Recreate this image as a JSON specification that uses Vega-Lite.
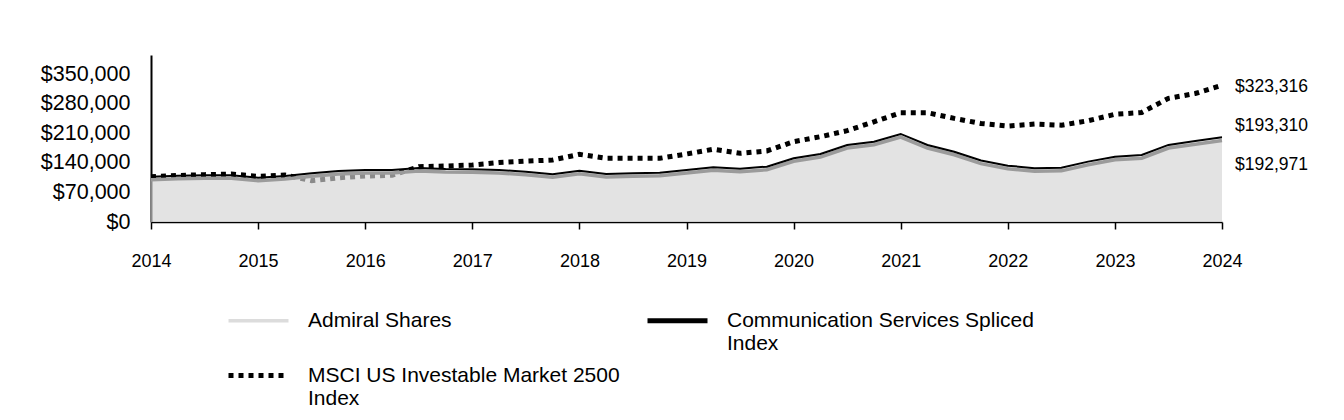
{
  "$schema": "https://vega.github.io/schema/vega-lite/v6.json",
  "width": 1071,
  "height": 167,
  "autosize": {"type": "none"},
  "padding": {"left": 151, "top": 55, "right": 122, "bottom": 198},
  "background": "white",
  "config": {
    "view": {"stroke": null},
    "font": "Liberation Sans",
    "axis": {"labelOverlap": false, "labelFlush": false, "grid": false}
  },
  "datasets": {
    "perf": [
      {"series": "Admiral Shares", "year": 2014.0, "value": 100000},
      {"series": "Admiral Shares", "year": 2014.25, "value": 102400},
      {"series": "Admiral Shares", "year": 2014.5, "value": 103300},
      {"series": "Admiral Shares", "year": 2014.75, "value": 103300},
      {"series": "Admiral Shares", "year": 2015.0, "value": 97700},
      {"series": "Admiral Shares", "year": 2015.25, "value": 101700},
      {"series": "Admiral Shares", "year": 2015.5, "value": 108000},
      {"series": "Admiral Shares", "year": 2015.75, "value": 113500},
      {"series": "Admiral Shares", "year": 2016.0, "value": 115900},
      {"series": "Admiral Shares", "year": 2016.25, "value": 115900},
      {"series": "Admiral Shares", "year": 2016.5, "value": 120600},
      {"series": "Admiral Shares", "year": 2016.75, "value": 118200},
      {"series": "Admiral Shares", "year": 2017.0, "value": 117500},
      {"series": "Admiral Shares", "year": 2017.25, "value": 115900},
      {"series": "Admiral Shares", "year": 2017.5, "value": 111800},
      {"series": "Admiral Shares", "year": 2017.75, "value": 105700},
      {"series": "Admiral Shares", "year": 2018.0, "value": 114200},
      {"series": "Admiral Shares", "year": 2018.25, "value": 106400},
      {"series": "Admiral Shares", "year": 2018.5, "value": 108000},
      {"series": "Admiral Shares", "year": 2018.75, "value": 109500},
      {"series": "Admiral Shares", "year": 2019.0, "value": 115900},
      {"series": "Admiral Shares", "year": 2019.25, "value": 122300},
      {"series": "Admiral Shares", "year": 2019.5, "value": 119000},
      {"series": "Admiral Shares", "year": 2019.75, "value": 123700},
      {"series": "Admiral Shares", "year": 2020.0, "value": 143500},
      {"series": "Admiral Shares", "year": 2020.25, "value": 153700},
      {"series": "Admiral Shares", "year": 2020.5, "value": 175000},
      {"series": "Admiral Shares", "year": 2020.75, "value": 182800},
      {"series": "Admiral Shares", "year": 2021.0, "value": 201000},
      {"series": "Admiral Shares", "year": 2021.25, "value": 175000},
      {"series": "Admiral Shares", "year": 2021.5, "value": 159000},
      {"series": "Admiral Shares", "year": 2021.75, "value": 138000},
      {"series": "Admiral Shares", "year": 2022.0, "value": 126000},
      {"series": "Admiral Shares", "year": 2022.25, "value": 120000},
      {"series": "Admiral Shares", "year": 2022.5, "value": 121000},
      {"series": "Admiral Shares", "year": 2022.75, "value": 135500},
      {"series": "Admiral Shares", "year": 2023.0, "value": 147000},
      {"series": "Admiral Shares", "year": 2023.25, "value": 151000},
      {"series": "Admiral Shares", "year": 2023.5, "value": 175000},
      {"series": "Admiral Shares", "year": 2023.75, "value": 184000},
      {"series": "Admiral Shares", "year": 2024.0, "value": 192971},
      {"series": "Communication Services Spliced Index", "year": 2014.0, "value": 100000},
      {"series": "Communication Services Spliced Index", "year": 2014.25, "value": 102500},
      {"series": "Communication Services Spliced Index", "year": 2014.5, "value": 103400},
      {"series": "Communication Services Spliced Index", "year": 2014.75, "value": 103400},
      {"series": "Communication Services Spliced Index", "year": 2015.0, "value": 97800},
      {"series": "Communication Services Spliced Index", "year": 2015.25, "value": 101800},
      {"series": "Communication Services Spliced Index", "year": 2015.5, "value": 108100},
      {"series": "Communication Services Spliced Index", "year": 2015.75, "value": 113600},
      {"series": "Communication Services Spliced Index", "year": 2016.0, "value": 116000},
      {"series": "Communication Services Spliced Index", "year": 2016.25, "value": 116000},
      {"series": "Communication Services Spliced Index", "year": 2016.5, "value": 120700},
      {"series": "Communication Services Spliced Index", "year": 2016.75, "value": 118300},
      {"series": "Communication Services Spliced Index", "year": 2017.0, "value": 117600},
      {"series": "Communication Services Spliced Index", "year": 2017.25, "value": 116000},
      {"series": "Communication Services Spliced Index", "year": 2017.5, "value": 111900},
      {"series": "Communication Services Spliced Index", "year": 2017.75, "value": 105800},
      {"series": "Communication Services Spliced Index", "year": 2018.0, "value": 114300},
      {"series": "Communication Services Spliced Index", "year": 2018.25, "value": 106500},
      {"series": "Communication Services Spliced Index", "year": 2018.5, "value": 108100},
      {"series": "Communication Services Spliced Index", "year": 2018.75, "value": 109600},
      {"series": "Communication Services Spliced Index", "year": 2019.0, "value": 116000},
      {"series": "Communication Services Spliced Index", "year": 2019.25, "value": 122400},
      {"series": "Communication Services Spliced Index", "year": 2019.5, "value": 119100},
      {"series": "Communication Services Spliced Index", "year": 2019.75, "value": 123800},
      {"series": "Communication Services Spliced Index", "year": 2020.0, "value": 143600},
      {"series": "Communication Services Spliced Index", "year": 2020.25, "value": 153800},
      {"series": "Communication Services Spliced Index", "year": 2020.5, "value": 175100},
      {"series": "Communication Services Spliced Index", "year": 2020.75, "value": 182900},
      {"series": "Communication Services Spliced Index", "year": 2021.0, "value": 201200},
      {"series": "Communication Services Spliced Index", "year": 2021.25, "value": 175200},
      {"series": "Communication Services Spliced Index", "year": 2021.5, "value": 159200},
      {"series": "Communication Services Spliced Index", "year": 2021.75, "value": 138200},
      {"series": "Communication Services Spliced Index", "year": 2022.0, "value": 126200},
      {"series": "Communication Services Spliced Index", "year": 2022.25, "value": 120200},
      {"series": "Communication Services Spliced Index", "year": 2022.5, "value": 121200},
      {"series": "Communication Services Spliced Index", "year": 2022.75, "value": 135700},
      {"series": "Communication Services Spliced Index", "year": 2023.0, "value": 147200},
      {"series": "Communication Services Spliced Index", "year": 2023.25, "value": 151300},
      {"series": "Communication Services Spliced Index", "year": 2023.5, "value": 175300},
      {"series": "Communication Services Spliced Index", "year": 2023.75, "value": 184300},
      {"series": "Communication Services Spliced Index", "year": 2024.0, "value": 193310},
      {"series": "MSCI US Investable Market 2500 Index", "year": 2014.0, "value": 107000},
      {"series": "MSCI US Investable Market 2500 Index", "year": 2014.25, "value": 110000},
      {"series": "MSCI US Investable Market 2500 Index", "year": 2014.5, "value": 112000},
      {"series": "MSCI US Investable Market 2500 Index", "year": 2014.75, "value": 113500},
      {"series": "MSCI US Investable Market 2500 Index", "year": 2015.0, "value": 108000},
      {"series": "MSCI US Investable Market 2500 Index", "year": 2015.25, "value": 111000},
      {"series": "MSCI US Investable Market 2500 Index", "year": 2015.5, "value": 97700},
      {"series": "MSCI US Investable Market 2500 Index", "year": 2015.75, "value": 104500},
      {"series": "MSCI US Investable Market 2500 Index", "year": 2016.0, "value": 108800},
      {"series": "MSCI US Investable Market 2500 Index", "year": 2016.25, "value": 110400},
      {"series": "MSCI US Investable Market 2500 Index", "year": 2016.5, "value": 130800},
      {"series": "MSCI US Investable Market 2500 Index", "year": 2016.75, "value": 132400},
      {"series": "MSCI US Investable Market 2500 Index", "year": 2017.0, "value": 134800},
      {"series": "MSCI US Investable Market 2500 Index", "year": 2017.25, "value": 140500},
      {"series": "MSCI US Investable Market 2500 Index", "year": 2017.5, "value": 144000},
      {"series": "MSCI US Investable Market 2500 Index", "year": 2017.75, "value": 146600},
      {"series": "MSCI US Investable Market 2500 Index", "year": 2018.0, "value": 160000},
      {"series": "MSCI US Investable Market 2500 Index", "year": 2018.25, "value": 150600},
      {"series": "MSCI US Investable Market 2500 Index", "year": 2018.5, "value": 150600},
      {"series": "MSCI US Investable Market 2500 Index", "year": 2018.75, "value": 150600},
      {"series": "MSCI US Investable Market 2500 Index", "year": 2019.0, "value": 160800},
      {"series": "MSCI US Investable Market 2500 Index", "year": 2019.25, "value": 172000},
      {"series": "MSCI US Investable Market 2500 Index", "year": 2019.5, "value": 162400},
      {"series": "MSCI US Investable Market 2500 Index", "year": 2019.75, "value": 168000},
      {"series": "MSCI US Investable Market 2500 Index", "year": 2020.0, "value": 190000},
      {"series": "MSCI US Investable Market 2500 Index", "year": 2020.25, "value": 201700},
      {"series": "MSCI US Investable Market 2500 Index", "year": 2020.5, "value": 216000},
      {"series": "MSCI US Investable Market 2500 Index", "year": 2020.75, "value": 237000},
      {"series": "MSCI US Investable Market 2500 Index", "year": 2021.0, "value": 258500},
      {"series": "MSCI US Investable Market 2500 Index", "year": 2021.25, "value": 258500},
      {"series": "MSCI US Investable Market 2500 Index", "year": 2021.5, "value": 245000},
      {"series": "MSCI US Investable Market 2500 Index", "year": 2021.75, "value": 233000},
      {"series": "MSCI US Investable Market 2500 Index", "year": 2022.0, "value": 227000},
      {"series": "MSCI US Investable Market 2500 Index", "year": 2022.25, "value": 231700},
      {"series": "MSCI US Investable Market 2500 Index", "year": 2022.5, "value": 229000},
      {"series": "MSCI US Investable Market 2500 Index", "year": 2022.75, "value": 239500},
      {"series": "MSCI US Investable Market 2500 Index", "year": 2023.0, "value": 254700},
      {"series": "MSCI US Investable Market 2500 Index", "year": 2023.25, "value": 259000},
      {"series": "MSCI US Investable Market 2500 Index", "year": 2023.5, "value": 292500},
      {"series": "MSCI US Investable Market 2500 Index", "year": 2023.75, "value": 304000},
      {"series": "MSCI US Investable Market 2500 Index", "year": 2024.0, "value": 323316}
    ]
  },
  "data": {"name": "perf"},
  "layer": [
    {
      "transform": [{"filter": "datum.series === 'MSCI US Investable Market 2500 Index'"}],
      "mark": {"type": "line", "strokeWidth": 5, "strokeDash": [5, 5], "strokeCap": "butt"},
      "encoding": {
        "x": {
          "field": "year", "type": "quantitative",
          "scale": {"domain": [2014, 2024], "nice": false, "zero": false},
          "axis": {
            "title": null, "values": [2014, 2015, 2016, 2017, 2018, 2019, 2020, 2021, 2022, 2023, 2024],
            "tickCount": 20,
            "format": "d", "grid": false, "labelFlush": false, "labelOverlap": false,
            "labelFont": "Liberation Sans", "labelFontSize": 18, "labelColor": "#000000",
            "labelPadding": 23, "domainColor": "#000000", "domainWidth": 1.5,
            "tickColor": "#000000", "tickWidth": 1.5, "tickSize": 7
          }
        },
        "y": {
          "field": "value", "type": "quantitative",
          "scale": {"domain": [0, 395000], "nice": false},
          "axis": {
            "title": null, "values": [0, 70000, 140000, 210000, 280000, 350000],
            "tickCount": 10,
            "format": "$,.0f", "grid": false, "ticks": false, "labelOverlap": false,
            "labelFont": "Liberation Sans", "labelFontSize": 21.5, "labelColor": "#000000",
            "labelPadding": 21, "domainColor": "#000000", "domainWidth": 2
          }
        },
        "color": {
          "field": "series", "type": "nominal",
          "scale": {
            "domain": ["Admiral Shares", "Communication Services Spliced Index", "MSCI US Investable Market 2500 Index"],
            "range": ["#dcdcdc", "#000000", "#000000"]
          },
          "legend": {
            "title": null, "orient": "none", "legendX": 97, "legendY": 255,
            "direction": "horizontal", "columns": 2,
            "symbolType": "stroke", "symbolSize": 3600,
            "labelFont": "Liberation Sans", "labelFontSize": 21, "labelColor": "#000000",
            "labelOffset": 39, "labelLimit": 500, "labelLineHeight": 22,
            "columnPadding": 17, "rowPadding": 10,
            "labelExpr": "datum.label === 'Communication Services Spliced Index' ? ['Communication Services Spliced', 'Index'] : datum.label === 'MSCI US Investable Market 2500 Index' ? ['MSCI US Investable Market 2500', 'Index'] : [datum.label, ' ']",
            "encode": {
              "symbols": {
                "update": {
                  "strokeDash": {"signal": "datum.value === 'MSCI US Investable Market 2500 Index' ? [5, 5] : [1, 0]"},
                  "strokeWidth": {"signal": "datum.value === 'Admiral Shares' ? 3.5 : 5"}
                }
              }
            }
          }
        }
      }
    },
    {
      "transform": [{"filter": "datum.series === 'Admiral Shares'"}],
      "mark": {"type": "area", "fill": "#d4d4d4", "fillOpacity": 0.65},
      "encoding": {
        "x": {"field": "year", "type": "quantitative"},
        "y": {"field": "value", "type": "quantitative"}
      }
    },
    {
      "transform": [{"filter": "datum.series === 'Admiral Shares'"}],
      "mark": {"type": "line", "stroke": "#9b9b9b", "strokeWidth": 3.5},
      "encoding": {
        "x": {"field": "year", "type": "quantitative"},
        "y": {"field": "value", "type": "quantitative"}
      }
    },
    {
      "transform": [{"filter": "datum.series === 'Communication Services Spliced Index'"}],
      "mark": {"type": "line", "stroke": "#000000", "strokeWidth": 2, "yOffset": -3},
      "encoding": {
        "x": {"field": "year", "type": "quantitative"},
        "y": {"field": "value", "type": "quantitative"}
      }
    },
    {
      "transform": [{"filter": "datum.series === 'MSCI US Investable Market 2500 Index' && datum.year === 2024"}],
      "mark": {"type": "text", "align": "left", "baseline": "middle", "dx": 13, "dy": 2, "fontSize": 17.5, "font": "Liberation Sans", "color": "#000000"},
      "encoding": {
        "x": {"field": "year", "type": "quantitative"},
        "y": {"field": "value", "type": "quantitative"},
        "text": {"field": "value", "type": "quantitative", "format": "$,.0f"}
      }
    },
    {
      "transform": [{"filter": "datum.series === 'Communication Services Spliced Index' && datum.year === 2024"}],
      "mark": {"type": "text", "align": "left", "baseline": "middle", "dx": 13, "dy": -14, "fontSize": 17.5, "font": "Liberation Sans", "color": "#000000"},
      "encoding": {
        "x": {"field": "year", "type": "quantitative"},
        "y": {"field": "value", "type": "quantitative"},
        "text": {"field": "value", "type": "quantitative", "format": "$,.0f"}
      }
    },
    {
      "transform": [{"filter": "datum.series === 'Admiral Shares' && datum.year === 2024"}],
      "mark": {"type": "text", "align": "left", "baseline": "middle", "dx": 13, "dy": 24.5, "fontSize": 17.5, "font": "Liberation Sans", "color": "#000000"},
      "encoding": {
        "x": {"field": "year", "type": "quantitative"},
        "y": {"field": "value", "type": "quantitative"},
        "text": {"field": "value", "type": "quantitative", "format": "$,.0f"}
      }
    }
  ]
}
